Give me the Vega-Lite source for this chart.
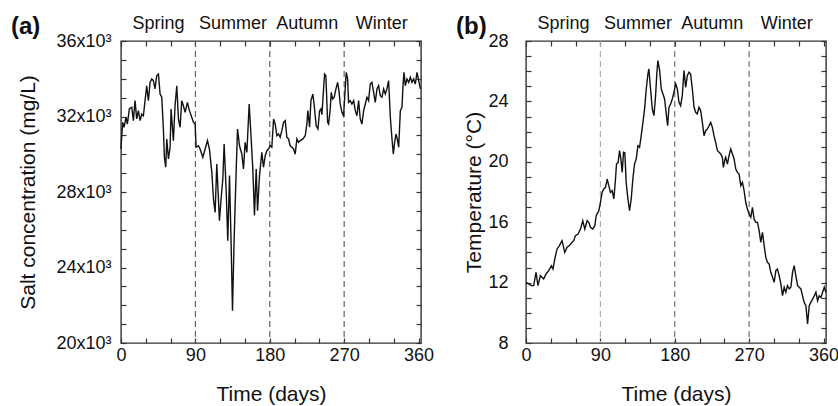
{
  "$schema": "https://vega.github.io/schema/vega-lite/v6.json",
  "padding": {"left": 10, "top": 13, "right": 0, "bottom": 0},
  "background": "white",
  "config": {
    "font": "Liberation Sans",
    "view": {"stroke": "#333", "strokeWidth": 1.4},
    "axis": {"grid": false, "domain": false, "tickColor": "#333", "tickWidth": 1.2, "tickSize": -5, "labelFontSize": 18, "labelColor": "#111", "titleColor": "#111", "titleFontSize": 21, "titleFontWeight": "normal", "labelFlush": false, "labelOverlap": false, "labelBound": false},
    "title": {"font": "Liberation Sans", "color": "#111"}
  },
  "datasets": {
    "salt": [
      {"day":0,"v":30280},{"day":0.9,"v":30980},{"day":2.1,"v":31690},{"day":3.7,"v":31430},{"day":6.1,"v":31960},{"day":7.7,"v":31600},{"day":10.1,"v":32400},{"day":13.0,"v":32490},{"day":15.0,"v":31780},{"day":17.0,"v":32840},{"day":19.0,"v":31870},{"day":21.0,"v":32310},{"day":23.1,"v":31780},{"day":25.1,"v":32130},{"day":27.1,"v":32040},{"day":29.1,"v":32840},{"day":31.1,"v":33630},{"day":33.1,"v":32840},{"day":35.2,"v":33810},{"day":37.2,"v":33990},{"day":39.2,"v":33900},{"day":41.2,"v":33460},{"day":43.2,"v":34160},{"day":45.3,"v":34250},{"day":47.3,"v":33190},{"day":49.3,"v":33020},{"day":51.3,"v":31340},{"day":52.5,"v":29840},{"day":54.1,"v":29310},{"day":55.4,"v":30810},{"day":57.4,"v":29750},{"day":59.4,"v":30370},{"day":60.6,"v":32400},{"day":63.4,"v":30720},{"day":65.4,"v":32570},{"day":67.5,"v":33630},{"day":69.5,"v":31870},{"day":71.5,"v":31430},{"day":73.5,"v":32840},{"day":75.5,"v":32570},{"day":77.6,"v":32220},{"day":80.4,"v":32750},{"day":82.8,"v":32310},{"day":85.6,"v":31960},{"day":87.7,"v":31690},{"day":89.7,"v":31600},{"day":90.9,"v":30370},{"day":93.7,"v":30450},{"day":95.7,"v":30280},{"day":99.0,"v":29840},{"day":101.8,"v":30280},{"day":104.6,"v":30720},{"day":107.0,"v":30280},{"day":109.9,"v":29040},{"day":111.9,"v":27630},{"day":113.9,"v":26920},{"day":115.9,"v":29480},{"day":117.9,"v":27630},{"day":119.1,"v":26480},{"day":121.1,"v":27630},{"day":123.2,"v":28690},{"day":124.8,"v":30540},{"day":127.2,"v":28160},{"day":129.2,"v":25420},{"day":131.3,"v":28870},{"day":133.3,"v":25160},{"day":134.9,"v":21710},{"day":136.9,"v":25510},{"day":139.3,"v":29040},{"day":141.0,"v":31340},{"day":143.4,"v":30450},{"day":146.2,"v":30010},{"day":148.2,"v":29220},{"day":150.2,"v":30630},{"day":152.3,"v":30100},{"day":155.1,"v":32660},{"day":157.5,"v":30810},{"day":159.5,"v":29220},{"day":161.5,"v":26750},{"day":163.6,"v":29220},{"day":165.2,"v":27010},{"day":167.6,"v":28870},{"day":170.4,"v":30100},{"day":172.4,"v":29310},{"day":174.5,"v":29920},{"day":176.5,"v":30190},{"day":178.5,"v":30280},{"day":180.5,"v":30450},{"day":182.5,"v":30370},{"day":184.6,"v":31870},{"day":186.6,"v":31600},{"day":188.6,"v":30980},{"day":190.6,"v":31070},{"day":192.6,"v":30900},{"day":194.6,"v":31250},{"day":196.7,"v":31690},{"day":198.7,"v":31780},{"day":200.7,"v":30900},{"day":202.7,"v":30810},{"day":204.7,"v":30450},{"day":206.8,"v":30370},{"day":208.8,"v":30280},{"day":210.8,"v":30010},{"day":212.8,"v":30810},{"day":214.8,"v":30630},{"day":216.8,"v":30720},{"day":220.1,"v":30810},{"day":222.9,"v":30980},{"day":224.9,"v":31600},{"day":226.1,"v":32310},{"day":228.2,"v":31430},{"day":229.8,"v":32840},{"day":232.2,"v":33190},{"day":233.8,"v":32570},{"day":236.2,"v":31510},{"day":238.3,"v":31340},{"day":240.3,"v":32310},{"day":241.9,"v":32400},{"day":243.1,"v":32100},{"day":245.1,"v":33460},{"day":246.3,"v":34250},{"day":247.9,"v":34160},{"day":250.0,"v":31690},{"day":251.2,"v":31600},{"day":253.2,"v":32400},{"day":254.4,"v":33280},{"day":256.0,"v":32930},{"day":258.0,"v":33020},{"day":260.1,"v":33460},{"day":262.1,"v":33810},{"day":263.7,"v":33370},{"day":265.3,"v":32660},{"day":267.3,"v":32220},{"day":269.3,"v":32040},{"day":271.4,"v":33550},{"day":272.6,"v":34340},{"day":274.2,"v":33990},{"day":275.4,"v":32750},{"day":277.4,"v":32840},{"day":279.4,"v":32660},{"day":281.5,"v":32840},{"day":283.5,"v":32310},{"day":285.5,"v":32040},{"day":287.5,"v":32840},{"day":289.5,"v":31870},{"day":291.5,"v":31600},{"day":293.6,"v":32310},{"day":295.6,"v":32660},{"day":297.6,"v":33020},{"day":299.6,"v":32840},{"day":301.6,"v":33720},{"day":303.6,"v":33810},{"day":305.7,"v":33280},{"day":307.7,"v":32750},{"day":309.7,"v":33460},{"day":311.7,"v":33630},{"day":313.7,"v":33100},{"day":315.8,"v":33020},{"day":317.8,"v":33460},{"day":319.8,"v":33190},{"day":321.8,"v":33460},{"day":323.8,"v":33900},{"day":325.9,"v":31960},{"day":327.9,"v":30810},{"day":329.5,"v":30010},{"day":331.1,"v":30630},{"day":332.7,"v":31070},{"day":334.3,"v":30810},{"day":336.0,"v":30370},{"day":338.0,"v":32310},{"day":340.0,"v":32490},{"day":341.2,"v":33630},{"day":342.4,"v":34340},{"day":344.0,"v":33630},{"day":346.0,"v":33990},{"day":348.1,"v":33810},{"day":350.1,"v":34080},{"day":352.1,"v":33810},{"day":354.1,"v":33990},{"day":356.1,"v":33720},{"day":358.2,"v":34340},{"day":360.2,"v":33900},{"day":362.2,"v":33460}
    ],
    "temp": [
      {"day":0,"v":12.02},{"day":3.2,"v":11.91},{"day":6.5,"v":11.8},{"day":9.3,"v":11.8},{"day":12.1,"v":12.68},{"day":14.5,"v":11.8},{"day":17.4,"v":12.46},{"day":19.4,"v":12.35},{"day":21.4,"v":12.24},{"day":24.2,"v":12.57},{"day":27.5,"v":12.79},{"day":30.7,"v":13.12},{"day":32.7,"v":12.9},{"day":34.8,"v":13.56},{"day":37.6,"v":14.23},{"day":40.4,"v":14.45},{"day":43.6,"v":14.78},{"day":46.9,"v":14.0},{"day":49.7,"v":14.34},{"day":52.5,"v":14.45},{"day":55.8,"v":14.67},{"day":57.8,"v":14.78},{"day":59.8,"v":15.11},{"day":63.0,"v":15.22},{"day":65.9,"v":15.55},{"day":68.7,"v":16.1},{"day":71.1,"v":15.55},{"day":74.0,"v":16.1},{"day":76.0,"v":15.99},{"day":78.0,"v":15.66},{"day":80.8,"v":15.55},{"day":83.3,"v":15.77},{"day":84.9,"v":16.43},{"day":88.1,"v":16.76},{"day":90.1,"v":17.32},{"day":92.1,"v":17.98},{"day":94.2,"v":18.2},{"day":96.2,"v":18.31},{"day":98.2,"v":18.86},{"day":100.2,"v":18.42},{"day":102.2,"v":17.98},{"day":104.3,"v":18.09},{"day":106.3,"v":17.54},{"day":108.3,"v":18.86},{"day":109.5,"v":19.85},{"day":111.5,"v":19.96},{"day":113.2,"v":20.74},{"day":114.8,"v":20.19},{"day":116.4,"v":19.3},{"day":118.0,"v":20.63},{"day":119.6,"v":20.6},{"day":121.2,"v":18.64},{"day":123.3,"v":17.54},{"day":125.3,"v":16.76},{"day":127.3,"v":17.54},{"day":129.3,"v":18.86},{"day":131.3,"v":19.85},{"day":133.4,"v":20.19},{"day":135.4,"v":21.07},{"day":137.4,"v":20.96},{"day":139.4,"v":21.73},{"day":141.5,"v":22.61},{"day":143.5,"v":23.5},{"day":145.5,"v":24.82},{"day":147.5,"v":25.81},{"day":148.7,"v":26.15},{"day":150.7,"v":24.82},{"day":152.8,"v":23.5},{"day":154.8,"v":23.06},{"day":156.8,"v":24.38},{"day":158.4,"v":25.93},{"day":159.6,"v":26.7},{"day":161.7,"v":26.04},{"day":163.7,"v":24.82},{"day":165.7,"v":24.49},{"day":167.7,"v":24.16},{"day":169.7,"v":23.17},{"day":171.4,"v":22.39},{"day":173.0,"v":23.61},{"day":175.0,"v":23.83},{"day":177.0,"v":24.16},{"day":179.0,"v":24.6},{"day":181.1,"v":25.15},{"day":183.1,"v":24.82},{"day":185.1,"v":23.94},{"day":187.1,"v":23.72},{"day":189.1,"v":24.38},{"day":191.2,"v":26.04},{"day":193.2,"v":24.93},{"day":195.2,"v":25.7},{"day":197.2,"v":25.93},{"day":199.2,"v":25.81},{"day":201.3,"v":24.82},{"day":203.3,"v":23.61},{"day":205.3,"v":23.28},{"day":207.3,"v":23.17},{"day":209.3,"v":23.61},{"day":211.4,"v":23.39},{"day":213.4,"v":22.61},{"day":215.4,"v":21.73},{"day":217.4,"v":22.06},{"day":219.4,"v":22.17},{"day":221.5,"v":22.39},{"day":223.5,"v":22.61},{"day":225.5,"v":22.28},{"day":227.5,"v":21.73},{"day":229.5,"v":21.29},{"day":231.6,"v":20.74},{"day":233.6,"v":20.63},{"day":235.6,"v":20.52},{"day":237.6,"v":20.3},{"day":238.8,"v":19.63},{"day":240.9,"v":20.19},{"day":241.7,"v":20.3},{"day":243.7,"v":19.85},{"day":245.7,"v":20.41},{"day":247.7,"v":20.85},{"day":249.8,"v":20.52},{"day":251.8,"v":20.19},{"day":253.8,"v":19.52},{"day":255.8,"v":19.3},{"day":257.8,"v":19.19},{"day":259.9,"v":18.42},{"day":261.9,"v":18.64},{"day":263.9,"v":18.09},{"day":265.9,"v":17.32},{"day":267.9,"v":16.87},{"day":270.0,"v":16.54},{"day":272.0,"v":16.32},{"day":274.0,"v":16.98},{"day":276.0,"v":16.21},{"day":278.0,"v":15.99},{"day":280.1,"v":15.99},{"day":282.1,"v":15.44},{"day":284.1,"v":14.67},{"day":286.1,"v":15.33},{"day":288.2,"v":14.45},{"day":290.2,"v":13.67},{"day":292.2,"v":13.34},{"day":294.2,"v":13.23},{"day":296.2,"v":12.68},{"day":298.3,"v":12.35},{"day":300.3,"v":12.02},{"day":302.3,"v":12.79},{"day":304.3,"v":12.9},{"day":306.3,"v":12.46},{"day":308.4,"v":11.91},{"day":310.4,"v":11.13},{"day":312.4,"v":11.69},{"day":314.4,"v":11.36},{"day":316.4,"v":11.8},{"day":318.5,"v":11.58},{"day":320.5,"v":11.69},{"day":322.5,"v":12.68},{"day":324.5,"v":13.12},{"day":326.5,"v":12.46},{"day":328.6,"v":11.8},{"day":330.6,"v":11.69},{"day":332.6,"v":11.58},{"day":334.6,"v":11.13},{"day":336.6,"v":10.69},{"day":338.7,"v":10.47},{"day":340.7,"v":9.26},{"day":342.7,"v":10.47},{"day":344.7,"v":10.69},{"day":346.8,"v":10.91},{"day":348.8,"v":11.13},{"day":350.8,"v":11.36},{"day":352.8,"v":10.8},{"day":354.8,"v":11.13},{"day":356.9,"v":11.02},{"day":358.9,"v":11.36},{"day":360.9,"v":11.69},{"day":362.9,"v":11.36}
    ]
  },
  "spacing": 105,
  "bounds": "flush",
  "hconcat": [
    {
      "width": 300,
      "height": 302,
      "title": {"text": "(a)", "anchor": "start", "frame": "group", "orient": "top", "fontSize": 24, "fontWeight": "bold", "dx": -110, "dy": 26, "offset": -18, "baseline": "alphabetic"},
      "layer": [
        {
          "data": {"values": [{"day": 90}, {"day": 180}, {"day": 270}]},
          "mark": {"type": "rule", "strokeDash": [6, 4], "strokeWidth": 1.1, "color": "#555"},
          "encoding": {"x": {"field": "day", "type": "quantitative", "scale": {"domain": [0, 363], "nice": false}, "axis": null}}
        },
        {
          "data": {"name": "salt"},
          "mark": {"type": "line", "color": "#111", "strokeWidth": 1.4},
          "encoding": {
            "x": {"field": "day", "type": "quantitative", "scale": {"domain": [0, 363], "nice": false},
              "axis": {"orient": "bottom", "values": [0,30,60,90,120,150,180,210,240,270,300,330,360], "labelExpr": "datum.value % 90 === 0 ? datum.label : ''", "labelPadding": 8, "title": "Time (days)", "titleY": 57, "titleBaseline": "alphabetic"}},
            "y": {"field": "v", "type": "quantitative", "scale": {"domain": [20000, 36000], "nice": false, "zero": false},
              "axis": {"orient": "left", "values": [20000,21000,22000,23000,24000,25000,26000,27000,28000,29000,30000,31000,32000,33000,34000,35000,36000], "labelExpr": "datum.value % 4000 === 0 ? (datum.value/1000) + 'x10³' : ''", "labelPadding": 15, "title": "Salt concentration (mg/L)", "titleX": -93, "titleY": 151, "titleAngle": 270, "titleAlign": "center", "titleBaseline": "middle"}}
          }
        },
        {
          "data": {"name": "salt"},
          "mark": {"type": "line", "strokeOpacity": 0},
          "encoding": {
            "x": {"field": "day", "type": "quantitative", "scale": {"domain": [0, 363], "nice": false},
              "axis": {"orient": "top", "values": [0,30,60,90,120,150,180,210,240,270,300,330,360], "labelExpr": "datum.value == 0 ? 'Spring' : datum.value == 90 ? 'Summer' : datum.value == 180 ? 'Autumn' : datum.value == 270 ? 'Winter' : ''", "labelOffset": 37, "labelPadding": 14, "title": null}},
            "y": {"field": "v", "type": "quantitative", "scale": {"domain": [20000, 36000], "nice": false, "zero": false},
              "axis": {"orient": "right", "values": [20000,21000,22000,23000,24000,25000,26000,27000,28000,29000,30000,31000,32000,33000,34000,35000,36000], "labels": false, "title": null}}
          }
        }
      ],
      "resolve": {"axis": {"x": "independent", "y": "independent"}}
    },
    {
      "width": 300,
      "height": 302,
      "title": {"text": "(b)", "anchor": "start", "frame": "group", "orient": "top", "fontSize": 24, "fontWeight": "bold", "dx": -70, "dy": 26, "offset": -18, "baseline": "alphabetic"},
      "layer": [
        {
          "data": {"values": [{"day": 90}, {"day": 180}, {"day": 270}]},
          "mark": {"type": "rule", "strokeDash": [6, 4], "strokeWidth": 1.1},
          "encoding": {
            "x": {"field": "day", "type": "quantitative", "scale": {"domain": [0, 363], "nice": false}, "axis": null},
            "color": {"condition": {"test": "datum.day === 90", "value": "#aaa"}, "value": "#666"}
          }
        },
        {
          "data": {"name": "temp"},
          "mark": {"type": "line", "color": "#111", "strokeWidth": 1.4},
          "encoding": {
            "x": {"field": "day", "type": "quantitative", "scale": {"domain": [0, 363], "nice": false},
              "axis": {"orient": "bottom", "values": [0,30,60,90,120,150,180,210,240,270,300,330,360], "labelExpr": "datum.value % 90 === 0 ? datum.label : ''", "labelPadding": 8, "title": "Time (days)", "titleY": 57, "titleBaseline": "alphabetic"}},
            "y": {"field": "v", "type": "quantitative", "scale": {"domain": [8, 28], "nice": false, "zero": false},
              "axis": {"orient": "left", "values": [8,9,10,11,12,13,14,15,16,17,18,19,20,21,22,23,24,25,26,27,28], "labelExpr": "datum.value % 4 === 0 ? datum.label : ''", "labelPadding": 23, "title": "Temperature (°C)", "titleX": -52, "titleY": 151, "titleAngle": 270, "titleAlign": "center", "titleBaseline": "middle"}}
          }
        },
        {
          "data": {"name": "temp"},
          "mark": {"type": "line", "strokeOpacity": 0},
          "encoding": {
            "x": {"field": "day", "type": "quantitative", "scale": {"domain": [0, 363], "nice": false},
              "axis": {"orient": "top", "values": [0,30,60,90,120,150,180,210,240,270,300,330,360], "labelExpr": "datum.value == 0 ? 'Spring' : datum.value == 90 ? 'Summer' : datum.value == 180 ? 'Autumn' : datum.value == 270 ? 'Winter' : ''", "labelOffset": 37, "labelPadding": 14, "title": null}},
            "y": {"field": "v", "type": "quantitative", "scale": {"domain": [8, 28], "nice": false, "zero": false},
              "axis": {"orient": "right", "values": [8,9,10,11,12,13,14,15,16,17,18,19,20,21,22,23,24,25,26,27,28], "labels": false, "title": null}}
          }
        }
      ],
      "resolve": {"axis": {"x": "independent", "y": "independent"}}
    }
  ]
}
